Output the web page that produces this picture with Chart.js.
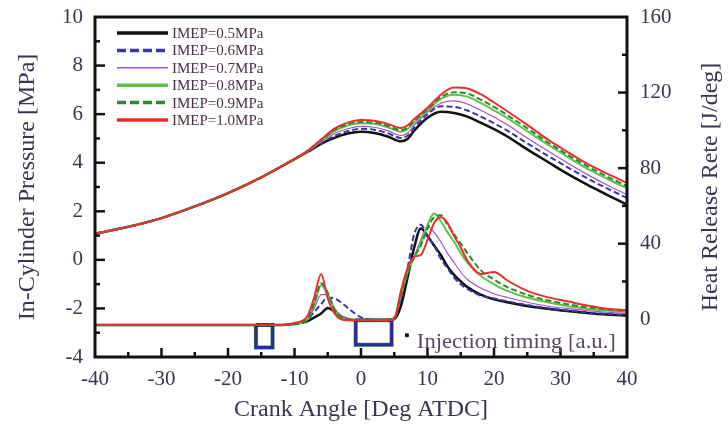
<!DOCTYPE html>
<html>
<head>
<meta charset="utf-8">
<script src="https://cdn.jsdelivr.net/npm/chart.js@4.4.1/dist/chart.umd.min.js"></script>
<style>
  html, body { margin: 0; padding: 0; background: #fff; }
  #wrap { width: 728px; height: 434px; }
</style>
</head>
<body>
<div id="wrap"><canvas id="chart" width="728" height="434"></canvas></div>
<script>
// crank angle points used for the pressure traces
const pressureAngle = [-40, -35, -30, -25, -20, -15, -10, -8, -6, -4, -2, 0, 2, 4, 6, 7, 8, 10, 12, 14, 16, 18, 20, 22, 25, 28, 31, 34, 37, 40];
const p05 = [1.08, 1.36, 1.72, 2.2, 2.75, 3.4, 4.15, 4.45, 4.78, 5.02, 5.2, 5.27, 5.22, 5.08, 4.88, 4.98, 5.32, 5.85, 6.1, 6.05, 5.9, 5.65, 5.38, 5.08, 4.55, 4.05, 3.55, 3.1, 2.68, 2.27];
const p06 = [1.08, 1.36, 1.72, 2.2, 2.75, 3.4, 4.15, 4.46, 4.8, 5.1, 5.3, 5.4, 5.36, 5.22, 5.02, 5.12, 5.45, 6.0, 6.32, 6.3, 6.15, 5.9, 5.63, 5.32, 4.8, 4.3, 3.82, 3.36, 2.94, 2.55];
const p07 = [1.08, 1.36, 1.72, 2.2, 2.75, 3.4, 4.15, 4.47, 4.85, 5.2, 5.4, 5.5, 5.46, 5.32, 5.12, 5.22, 5.55, 6.08, 6.45, 6.55, 6.42, 6.16, 5.88, 5.56, 5.02, 4.5, 4.0, 3.52, 3.08, 2.68];
const p08 = [1.08, 1.36, 1.72, 2.2, 2.75, 3.4, 4.15, 4.48, 4.9, 5.3, 5.53, 5.63, 5.6, 5.46, 5.28, 5.38, 5.66, 6.15, 6.63, 6.8, 6.72, 6.46, 6.16, 5.84, 5.3, 4.76, 4.25, 3.76, 3.34, 2.95];
const p09 = [1.08, 1.36, 1.72, 2.2, 2.75, 3.4, 4.15, 4.49, 4.92, 5.35, 5.58, 5.68, 5.65, 5.52, 5.34, 5.44, 5.72, 6.2, 6.7, 6.9, 6.85, 6.6, 6.3, 5.96, 5.42, 4.85, 4.34, 3.86, 3.43, 3.04];
const p10 = [1.08, 1.36, 1.72, 2.2, 2.75, 3.4, 4.15, 4.5, 4.95, 5.4, 5.65, 5.76, 5.73, 5.6, 5.43, 5.54, 5.8, 6.26, 6.8, 7.1, 7.06, 6.82, 6.48, 6.12, 5.56, 4.97, 4.45, 3.96, 3.55, 3.17];

// crank angle points used for the heat release traces
const hrrAngle = [-40, -30, -20, -12, -10, -8, -7, -6, -5, -4, -3, -2, 0, 2, 4, 5, 6, 7, 8, 9, 10, 11, 12, 13, 14, 15, 16, 18, 20, 22, 25, 28, 31, 34, 37, 40];
const h05 = [-3, -3, -3, -3, -2.5, -1, 1, 3, 6, 4, 1.5, 0, -0.5, -0.5, -0.5, 0, 7, 22, 38, 48, 44, 39, 34, 28, 23.5, 20, 17, 13, 10.5, 9, 7, 5.5, 4.3, 3.3, 2.5, 2];
const h06 = [-3, -3, -3, -3, -2.5, 0, 4, 8, 11.5, 11, 9, 6, 1, -0.5, -0.5, 1, 11, 27, 45, 50, 44, 39, 32, 27, 22, 18.5, 16, 12.5, 11, 9.5, 7.5, 5.8, 4.6, 3.6, 2.8, 2.2];
const h07 = [-3, -3, -3, -3, -2.5, 0, 6, 13, 13, 6, 2, 0.5, -0.5, -0.5, -0.5, 0.5, 12, 24, 33, 42, 49, 46, 41, 35, 30, 25, 21, 16.5, 13.5, 11.5, 9, 7, 5.7, 4.6, 3.7, 3];
const h08 = [-3, -3, -3, -3, -2.5, 0, 8, 18, 13, 5, 1, 0, -0.5, -0.5, -0.5, 0.5, 13, 25, 33, 40, 50, 56, 52, 46, 41, 35, 30, 23, 18.5, 15, 11.5, 9, 7, 5.6, 4.6, 3.8];
const h09 = [-3, -3, -3, -3, -2.5, 0, 9, 19, 14, 5, 1, 0, -0.5, -0.5, -0.5, 0.5, 13, 24, 33, 39, 48, 54, 55, 50, 45, 40, 35, 26, 21, 17, 13, 10, 8, 6.3, 5.2, 4.3];
const h10 = [-3, -3, -3, -3, -2, 2, 12, 24, 11, 3, 0, -0.5, -0.5, -0.5, -0.5, 0, 15, 27, 33, 34, 42, 51, 54, 51, 44, 38, 31, 24, 25, 20.5, 15, 11.7, 9.5, 7.3, 5.6, 4.8];

// injection timing signal (a.u., drawn on the heat release axis)
const inj1Angle = [-15.8, -15.8, -13.3, -13.3, -15.8];
const inj1Level = [-3, -15, -15, -3, -3];
const inj2Angle = [-0.8, -0.8, 4.6, 4.6, -0.8];
const inj2Level = [-0.5, -13.5, -13.5, -0.5, -0.5];
const markAngle = [6.9];
const markLevel = [-8.5];

const labels = ["IMEP=0.5MPa", "IMEP=0.6MPa", "IMEP=0.7MPa", "IMEP=0.8MPa", "IMEP=0.9MPa", "IMEP=1.0MPa"];
const colors = ["#111111", "#3b36a3", "#a052c8", "#5fc24c", "#2a8a2c", "#e5302c"];
const widths = [2.5, 2, 1.2, 2, 2, 2];
const dashes = [[], [6, 3], [], [], [6, 3], []];

const hrrTicks = [0, 40, 80, 120, 160];
const serif = "'Liberation Serif', 'DejaVu Serif', serif";
const ink = "#3a3452";

const pts = (xs, ys) => xs.map((x, i) => ({ x, y: ys[i] }));
const pressure = [p05, p06, p07, p08, p09, p10];
const hrr = [h05, h06, h07, h08, h09, h10];

const datasets = [];
labels.forEach((lab, i) => {
  const base = {
    borderColor: colors[i],
    borderWidth: widths[i],
    borderDash: dashes[i],
    pointRadius: 0,
    cubicInterpolationMode: "monotone",
    fill: false,
    order: 6 - i
  };
  datasets.push({ ...base, label: lab, data: pts(pressureAngle, pressure[i]), yAxisID: "y" });
  datasets.push({ ...base, label: lab + " HRR", data: pts(hrrAngle, hrr[i]), yAxisID: "y2" });
});
[[inj1Angle, inj1Level], [inj2Angle, inj2Level]].forEach(([xs, ys]) => {
  datasets.push({ label: "inj", data: pts(xs, ys), yAxisID: "y2", borderColor: "#3f8f45", borderWidth: 4, pointRadius: 0, tension: 0, order: 9 });
  datasets.push({ label: "inj", data: pts(xs, ys), yAxisID: "y2", borderColor: "#2b2c9a", borderWidth: 3, pointRadius: 0, tension: 0, order: 8 });
});
datasets.push({ label: "mark", type: "scatter", data: pts(markAngle, markLevel), yAxisID: "y2", pointStyle: "rect", pointRadius: 2, backgroundColor: "#111", borderColor: "#111" });

// text in the source figure is a little wider than the font, so stretch it
function wideText(ctx, text, x, y, sx) {
  ctx.save();
  ctx.translate(x, y);
  ctx.scale(sx, 1);
  ctx.fillText(text, 0, 0);
  ctx.restore();
}

// keep the plot box where the figure has it, whatever the tick labels need
function noEdgePadding(scale) {
  scale.paddingTop = 0;
  scale.paddingBottom = 0;
  scale.paddingLeft = 0;
  scale.paddingRight = 0;
}

const frame = {
  id: "frame",
  afterDatasetsDraw(chart) {
    const { ctx, chartArea: a, scales } = chart;
    ctx.save();
    ctx.strokeStyle = "#111";
    ctx.lineWidth = 2.5;
    const xs = scales.x, yl = scales.y, yr = scales.y2;
    for (let v = -35; v < 40; v += 5) {
      const px = xs.getPixelForValue(v);
      const len = v % 10 === 0 ? 9 : 5;
      ctx.beginPath(); ctx.moveTo(px, a.bottom); ctx.lineTo(px, a.bottom - len); ctx.stroke();
    }
    for (let v = -3; v < 10; v += 1) {
      const py = yl.getPixelForValue(v);
      const len = v % 2 === 0 ? 10 : 5;
      ctx.beginPath(); ctx.moveTo(a.left, py); ctx.lineTo(a.left + len, py); ctx.stroke();
    }
    for (let v = 20; v < 160; v += 20) {
      const py = yr.getPixelForValue(v);
      const len = v % 40 === 0 ? 9 : 5;
      ctx.beginPath(); ctx.moveTo(a.right, py); ctx.lineTo(a.right - len, py); ctx.stroke();
    }
    ctx.lineWidth = 3;
    ctx.strokeRect(a.left, a.top, a.right - a.left, a.bottom - a.top);

    // legend
    ctx.font = "15px " + serif;
    ctx.textBaseline = "middle";
    labels.forEach((lab, i) => {
      const y = a.top + 16 + i * 17.4;
      ctx.beginPath();
      ctx.strokeStyle = colors[i];
      ctx.lineWidth = i === 2 ? 1.5 : 3.5;
      ctx.setLineDash(dashes[i].length ? [9, 4] : []);
      ctx.moveTo(a.left + 22, y); ctx.lineTo(a.left + 73, y); ctx.stroke();
      ctx.setLineDash([]);
      ctx.fillStyle = "#4a2f45";
      ctx.fillText(lab, a.left + 77, y + 1);
    });

    // injection timing note
    ctx.font = "21px " + serif;
    ctx.fillStyle = "#5a4766";
    ctx.textBaseline = "middle";
    wideText(ctx, "Injection timing [a.u.]", xs.getPixelForValue(8.4), yr.getPixelForValue(-12.2), 1.08);

    // right axis title, reading bottom to top
    ctx.translate(711, (a.top + a.bottom) / 2);
    ctx.rotate(-Math.PI / 2);
    ctx.font = "24px " + serif;
    ctx.fillStyle = ink;
    ctx.textAlign = "center";
    ctx.fillText("Heat Release Rete [J/deg]", 0, 0);
    ctx.restore();
  }
};

new Chart(document.getElementById("chart"), {
  type: "line",
  data: { datasets },
  options: {
    responsive: false,
    animation: false,
    layout: { padding: { top: 17, left: 0, right: 0, bottom: 0 } },
    plugins: { legend: { display: false }, tooltip: { enabled: false } },
    scales: {
      x: {
        type: "linear",
        min: -40,
        max: 40,
        grid: { display: false, drawTicks: false },
        border: { display: false },
        ticks: { stepSize: 10, padding: 10, color: ink, font: { family: serif, size: 21 } },
        title: { display: true, text: "Crank Angle [Deg ATDC]", color: ink, font: { family: serif, size: 24 }, padding: { top: 0, bottom: 10 } },
        afterFit(scale) { scale.height = 77; noEdgePadding(scale); }
      },
      y: {
        position: "left",
        min: -4,
        max: 10,
        grid: { display: false, drawTicks: false },
        border: { display: false },
        ticks: { stepSize: 2, padding: 12, color: ink, font: { family: serif, size: 21 } },
        title: { display: true, text: "In-Cylinder Pressure [MPa]", color: ink, font: { family: serif, size: 24 }, padding: { top: 13, bottom: 0 } },
        afterFit(scale) { scale.width = 95; noEdgePadding(scale); }
      },
      y2: {
        position: "right",
        min: -20,
        max: 160,
        grid: { display: false, drawTicks: false },
        border: { display: false },
        ticks: { padding: 13, color: ink, font: { family: serif, size: 21 } },
        afterBuildTicks(scale) { scale.ticks = hrrTicks.map((value) => ({ value })); },
        afterFit(scale) { scale.width = 101; noEdgePadding(scale); }
      }
    }
  },
  plugins: [frame]
});
</script>
</body>
</html>
